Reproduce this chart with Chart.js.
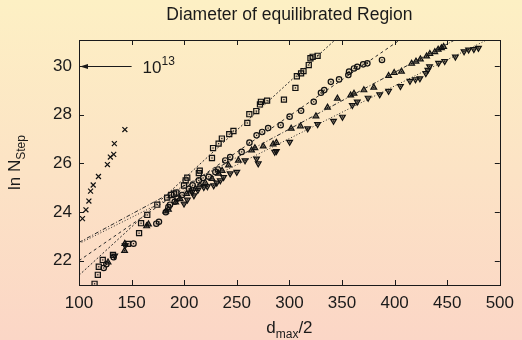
<!DOCTYPE html>
<html>
<head>
<meta charset="utf-8">
<script src="https://cdn.jsdelivr.net/npm/chart.js@4"></script>
<style>
  html, body { margin: 0; padding: 0; }
  body { width: 522px; height: 340px; background: linear-gradient(#fdf0c4, #fbd6c6); }
  canvas { display: block; }
</style>
</head>
<body>
<canvas id="chart" width="522" height="340"></canvas>
<script>
// tick labels
var xTicks = [100, 150, 200, 250, 300, 350, 400, 450, 500];
var yTicks = [22, 24, 26, 28, 30];

// measured points [d_max/2, ln N_step]
var crosses = [[103.3, 23.73], [106.6, 24.09], [109.4, 24.45], [111, 24.86], [113.5, 25.11], [118.5, 25.46],
  [127, 25.95], [129.8, 26.26], [133, 26.37], [133.6, 26.81], [143.6, 27.39]];

var squares = [[114.8, 21.05], [117.9, 21.42], [118.8, 21.75], [122.6, 22.03], [132.3, 22.24], [146.4, 22.69],
  [157.1, 23.13], [159, 23.54], [164.9, 23.88], [174.4, 24.3], [183.8, 24.59], [187.5, 24.7], [190.4, 24.75],
  [192.5, 24.8], [199.8, 25.09], [201.4, 25.3], [202.9, 25.41], [213.9, 25.6], [214.8, 25.7], [226.4, 26.22],
  [227.4, 26.63], [232.7, 26.81], [235.8, 27.02], [242.8, 27.2], [246.8, 27.33], [260, 27.66], [261.9, 28.02],
  [268.5, 28.15], [272, 28.42], [272.9, 28.53], [278.8, 28.58], [294.8, 28.62], [305.7, 29.1], [307.1, 29.58],
  [311.1, 29.7], [313.4, 29.79], [318.4, 30.04], [320, 30.32], [322.1, 30.38], [326.8, 30.42]];

var circles = [[123.5, 21.7], [126, 21.85], [132.9, 22.14], [151.8, 22.7], [173.5, 23.52], [176, 23.6],
  [182.5, 23.99], [185, 24.2], [186.5, 24.3], [191, 24.42], [193.5, 24.55], [198, 24.7], [204.5, 24.95],
  [208, 25.1], [213.9, 25.3], [218, 25.4], [223.3, 25.45], [229.6, 25.64], [232, 25.75], [239, 26.12],
  [243.7, 26.26], [254.6, 26.47], [262, 26.85], [268.8, 27.15], [274.1, 27.29], [279.8, 27.45], [291.7, 27.57],
  [300.2, 27.92], [311.1, 28.16], [323.1, 28.53], [330, 28.9], [333.1, 29.01], [339.4, 29.35], [347.2, 29.45],
  [356, 29.63], [356.7, 29.77], [361.4, 29.9], [364.5, 29.97], [370.1, 30.07], [374.1, 30.11], [388, 30.25]];

var upTriangles = [[127.6, 21.93], [143.3, 22.41], [143.5, 22.7], [164.3, 23.42], [166, 23.5], [182.5, 24.03],
  [185, 24.1], [191.9, 24.4], [196, 24.55], [202.3, 24.75], [206, 24.85], [210.7, 24.96], [215, 25.1],
  [220, 25.2], [226.4, 25.37], [232.7, 25.58], [236, 25.7], [242.1, 25.92], [251.5, 26.12], [264, 26.54],
  [267.2, 26.63], [275.1, 26.7], [284.5, 26.79], [287.6, 26.85], [301.7, 27.43], [310.5, 27.53], [325.2, 27.94],
  [336.2, 28.3], [345.6, 28.67], [358.2, 28.8], [361.4, 28.87], [370.8, 29.01], [380.2, 29.12], [394.3, 29.6],
  [399.6, 29.72], [406.5, 29.78], [416.2, 30.1], [420.3, 30.19], [424.5, 30.28], [430.4, 30.4], [433.5, 30.5],
  [438.2, 30.58], [441.4, 30.68], [444.5, 30.74], [446.6, 30.79]];

var downTriangles = [[133.9, 22.2], [143.9, 22.62], [199.8, 24.34], [203, 24.5], [207.6, 24.82], [209.2, 24.68],
  [213, 24.9], [218.6, 25.02], [222, 25.05], [228, 25.09], [231, 25.2], [234.3, 25.3], [237.4, 25.43],
  [243.7, 25.58], [250, 25.64], [257.8, 26.12], [268.8, 26.19], [270.4, 25.99], [286, 26.47], [287.6, 26.5],
  [300.2, 26.88], [317.4, 27.43], [326.8, 27.61], [341.9, 27.74], [350.4, 27.91], [359.8, 28.39], [364.5, 28.53],
  [374.8, 28.69], [385.8, 28.83], [394.3, 28.97], [405.5, 29.17], [414.6, 29.38], [419.8, 29.45], [424, 29.49],
  [429.7, 29.7], [431.6, 29.84], [433.2, 29.98], [441.8, 30.12], [447.6, 30.2], [457.8, 30.38], [466, 30.6],
  [470.3, 30.67], [475.3, 30.69], [479.7, 30.74]];

// fitted lines: value at x=100 and at x=500 (squares, circles, up, down)
var fitX = [100, 500];
var fitStart = [21.4, 22.0, 22.75, 22.7];
var fitEnd = [37.3, 33.9, 32.07, 31.34];

// arrow annotation at ln N = 30 (10^13 steps)
var arrowFrom = 150, arrowTo = 100, arrowAt = 30;

var ink = '#1a1a1a';
var font = '"Liberation Sans", Arial, Helvetica, sans-serif';

function pts(arr) {
  return arr.map(function(p) { return { x: p[0], y: p[1] }; });
}

var dashes = [[2, 2], [3, 3], [4, 2, 1, 2], [1, 2]];
var fitSets = fitStart.map(function(v, i) {
  return {
    data: [{ x: fitX[0], y: v }, { x: fitX[1], y: fitEnd[i] }],
    showLine: true,
    pointRadius: 0,
    borderColor: '#2a2a2a',
    borderWidth: 1,
    borderDash: dashes[i]
  };
});

function markerSet(arr, style, r, fill, dot) {
  return {
    data: pts(arr),
    pointStyle: style,
    pointRadius: r,
    pointBorderColor: '#111',
    pointBackgroundColor: fill,
    pointBorderWidth: 1.2,
    dot: dot
  };
}

var markerSets = [
  markerSet(crosses, 'crossRot', 3.5, 'rgba(0,0,0,0)', false),
  markerSet(squares, 'rect', 3.6, 'rgba(0,0,0,0.08)', true),
  markerSet(circles, 'circle', 2.7, 'rgba(0,0,0,0.08)', true),
  markerSet(upTriangles, 'triangle', 3.3, 'rgba(20,20,20,0.45)', true),
  markerSet(downTriangles, 'triangle', 3.3, 'rgba(20,20,20,0.45)', true)
];
markerSets[4].pointRotation = 180;

var decorPlugin = {
  id: 'decor',
  afterDatasetsDraw: function(chart) {
    var ctx = chart.ctx;
    ctx.save();
    ctx.fillStyle = '#111';
    chart.data.datasets.forEach(function(ds, i) {
      if (!ds.dot) return;
      chart.getDatasetMeta(i).data.forEach(function(el) {
        ctx.fillRect(el.x - 0.6, el.y - 0.6, 1.2, 1.2);
      });
    });
    ctx.restore();
  },
  afterDraw: function(chart) {
    var ctx = chart.ctx;
    var a = chart.chartArea;
    var xs = chart.scales.x, ys = chart.scales.y;
    ctx.save();
    // frame and inward ticks
    ctx.strokeStyle = ink;
    ctx.lineWidth = 1;
    ctx.strokeRect(Math.round(a.left) + 0.5, Math.round(a.top) + 0.5, Math.round(a.right - a.left), Math.round(a.bottom - a.top));
    ctx.beginPath();
    xTicks.forEach(function(v) {
      var px = Math.round(xs.getPixelForValue(v)) + 0.5;
      ctx.moveTo(px, a.bottom); ctx.lineTo(px, a.bottom - 5);
      ctx.moveTo(px, a.top); ctx.lineTo(px, a.top + 5);
    });
    yTicks.forEach(function(v) {
      var py = Math.round(ys.getPixelForValue(v)) + 0.5;
      ctx.moveTo(a.left, py); ctx.lineTo(a.left + 5, py);
      ctx.moveTo(a.right, py); ctx.lineTo(a.right - 5, py);
    });
    ctx.stroke();

    // arrow
    var ay = Math.round(ys.getPixelForValue(arrowAt)) + 0.5;
    var ax0 = xs.getPixelForValue(arrowFrom), ax1 = xs.getPixelForValue(arrowTo) + 1;
    ctx.beginPath();
    ctx.moveTo(ax0, ay); ctx.lineTo(ax1 + 6, ay);
    ctx.stroke();
    ctx.fillStyle = ink;
    ctx.beginPath();
    ctx.moveTo(ax1, ay); ctx.lineTo(ax1 + 8, ay - 2.5); ctx.lineTo(ax1 + 8, ay + 2.5);
    ctx.closePath();
    ctx.fill();

    ctx.textBaseline = 'alphabetic';
    ctx.textAlign = 'left';
    ctx.font = '17px ' + font;
    ctx.fillText('10', ax0 + 11, ay + 6.5);
    var w10 = ctx.measureText('10').width;
    ctx.font = '12px ' + font;
    ctx.fillText('13', ax0 + 11 + w10, ay - 1.5);

    // title
    ctx.font = '17.5px ' + font;
    ctx.textAlign = 'center';
    ctx.fillText('Diameter of equilibrated Region', (a.left + a.right) / 2, 20);

    // x axis title d_max/2
    ctx.textAlign = 'left';
    ctx.font = '17px ' + font;
    var wd = ctx.measureText('d').width, w2 = ctx.measureText('/2').width;
    ctx.font = '12px ' + font;
    var wm = ctx.measureText('max').width;
    var x0 = (a.left + a.right) / 2 - (wd + wm + w2) / 2;
    ctx.font = '17px ' + font;
    ctx.fillText('d', x0, 333);
    ctx.fillText('/2', x0 + wd + wm, 333);
    ctx.font = '12px ' + font;
    ctx.fillText('max', x0 + wd, 338);

    // y axis title ln N_Step
    ctx.translate(20, (a.top + a.bottom) / 2);
    ctx.rotate(-Math.PI / 2);
    ctx.font = '17px ' + font;
    var wl = ctx.measureText('ln N').width;
    ctx.font = '12px ' + font;
    var ws = ctx.measureText('Step').width;
    ctx.font = '17px ' + font;
    ctx.fillText('ln N', -(wl + ws) / 2, 0);
    ctx.font = '12px ' + font;
    ctx.fillText('Step', -(wl + ws) / 2 + wl, 4.5);
    ctx.restore();
  }
};

var tickFont = { family: font, size: 17 };

new Chart(document.getElementById('chart'), {
  type: 'scatter',
  data: { datasets: fitSets.concat(markerSets) },
  options: {
    responsive: false,
    animation: false,
    devicePixelRatio: 1,
    layout: { padding: { top: 40, right: 18, left: 0, bottom: 0 } },
    plugins: { legend: { display: false }, tooltip: { enabled: false } },
    scales: {
      x: {
        type: 'linear', min: 100, max: 500,
        grid: { display: false, drawTicks: false },
        border: { display: false },
        ticks: { color: ink, font: tickFont, padding: 8, maxRotation: 0 },
        afterBuildTicks: function(s) { s.ticks = xTicks.map(function(v) { return { value: v }; }); },
        afterFit: function(s) { s.height = 55; }
      },
      y: {
        type: 'linear', min: 21, max: 31.07,
        grid: { display: false, drawTicks: false },
        border: { display: false },
        ticks: { color: ink, font: tickFont, padding: 7 },
        afterBuildTicks: function(s) { s.ticks = yTicks.map(function(v) { return { value: v }; }); },
        afterFit: function(s) { s.width = 79; }
      }
    }
  },
  plugins: [decorPlugin]
});
</script>
</body>
</html>
